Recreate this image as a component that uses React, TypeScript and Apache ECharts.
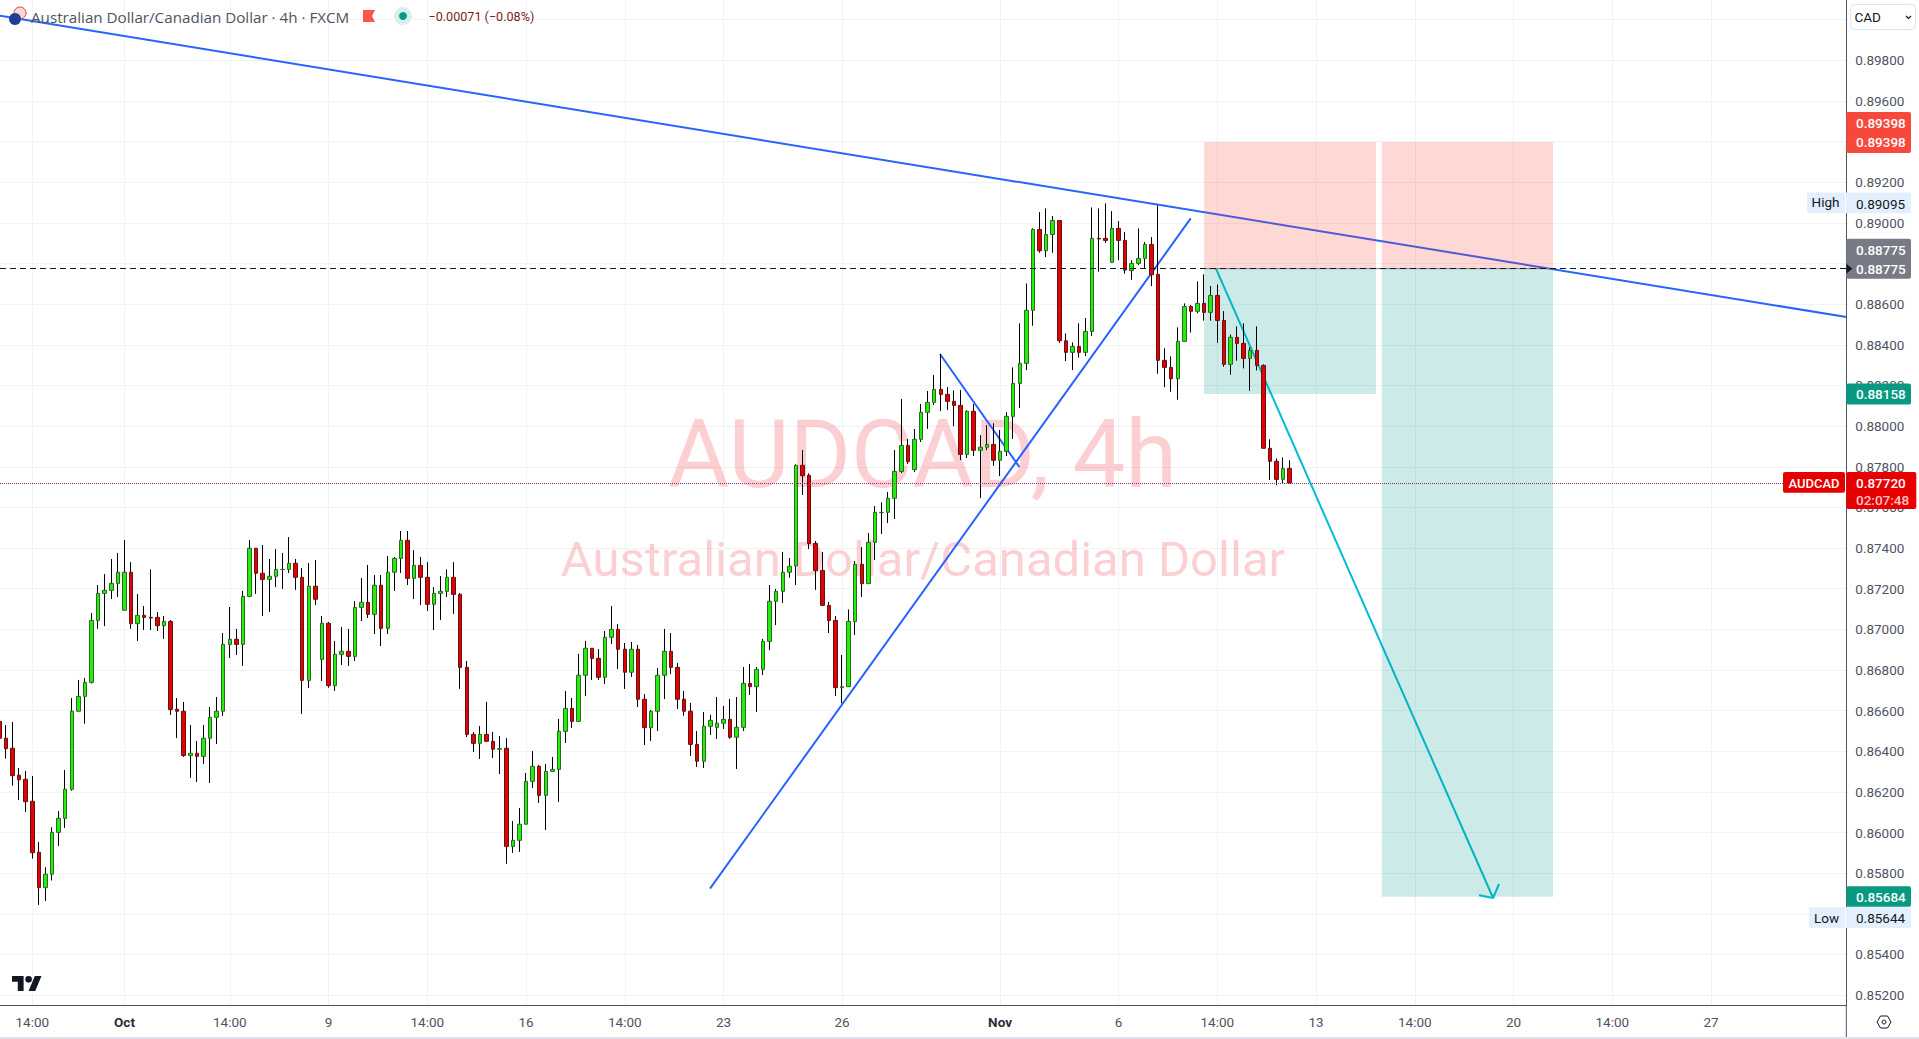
import React, { useEffect, useRef } from "react";
import * as echarts from "echarts";

const opens = [
  0.86547,0.86464,0.86415,0.86282,0.86262,0.86154,0.85903,0.85729,0.85795,0.86001,
  0.86070,0.86213,0.86597,0.86670,0.86739,0.87044,0.87177,0.87192,0.87226,0.87094,
  0.87281,0.87028,0.87069,0.87059,0.87059,0.87018,0.87039,0.86607,0.86597,0.86379,
  0.86390,0.86375,0.86464,0.86567,0.86597,0.86926,0.86951,0.86926,0.87162,0.87399,
  0.87276,0.87246,0.87261,0.87294,0.87295,0.87325,0.87256,0.86749,0.87212,0.86852,
  0.87030,0.86723,0.86877,0.86892,0.86867,0.87108,0.87133,0.87074,0.87217,0.87005,
  0.87281,0.87349,0.87438,0.87251,0.87315,0.87256,0.87123,0.87177,0.87187,0.87256,
  0.87172,0.86813,0.86483,0.86439,0.86483,0.86449,0.86410,0.86415,0.85932,0.85962,
  0.86041,0.86252,0.86326,0.86183,0.86301,0.86311,0.86498,0.86611,0.86547,0.86774,
  0.86907,0.86857,0.86764,0.86961,0.87000,0.86902,0.86789,0.86902,0.86656,0.86516,
  0.86597,0.86774,0.86892,0.86813,0.86656,0.86597,0.86434,0.86351,0.86523,0.86518,
  0.86538,0.86557,0.86469,0.86518,0.86734,0.86718,0.86803,0.86941,0.87138,0.87187,
  0.87281,0.87312,0.87807,0.87758,0.87423,0.87290,0.87118,0.87044,0.86713,0.86718,
  0.87038,0.87320,0.87225,0.87428,0.87574,0.87576,0.87645,0.87777,0.87905,0.87786,
  0.87935,0.88068,0.88117,0.88181,0.88156,0.88122,0.88102,0.87861,0.88073,0.87881,
  0.87896,0.87910,0.87832,0.87876,0.88048,0.88210,0.88309,0.88570,0.88968,0.88863,
  0.88943,0.89012,0.88420,0.88363,0.88392,0.88363,0.88466,0.88924,0.88924,0.88806,
  0.88973,0.88914,0.88766,0.88801,0.88825,0.88894,0.88747,0.88324,0.88289,0.88233,
  0.88417,0.88589,0.88565,0.88604,0.88560,0.88643,0.88520,0.88304,0.88437,0.88407,
  0.88333,0.88373,0.88299,0.87891,0.87827,0.87738,0.87792,
];
const closes = [
  0.86464,0.86413,0.86280,0.86260,0.86152,0.85901,0.85729,0.85795,0.86001,0.86070,
  0.86213,0.86597,0.86670,0.86739,0.87044,0.87177,0.87192,0.87226,0.87281,0.87281,
  0.87028,0.87069,0.87059,0.87056,0.87018,0.87039,0.86605,0.86597,0.86379,0.86390,
  0.86375,0.86464,0.86567,0.86597,0.86926,0.86951,0.86926,0.87162,0.87399,0.87276,
  0.87246,0.87261,0.87295,0.87295,0.87325,0.87256,0.86749,0.87212,0.87148,0.87030,
  0.86723,0.86877,0.86892,0.86867,0.87108,0.87133,0.87074,0.87217,0.87005,0.87281,
  0.87349,0.87438,0.87251,0.87315,0.87256,0.87123,0.87177,0.87187,0.87256,0.87172,
  0.86813,0.86483,0.86439,0.86483,0.86449,0.86410,0.86413,0.85932,0.85962,0.86041,
  0.86252,0.86326,0.86183,0.86301,0.86311,0.86498,0.86611,0.86547,0.86774,0.86907,
  0.86857,0.86764,0.86961,0.87000,0.86902,0.86789,0.86902,0.86656,0.86516,0.86597,
  0.86774,0.86892,0.86813,0.86656,0.86597,0.86434,0.86351,0.86523,0.86552,0.86538,
  0.86557,0.86469,0.86518,0.86734,0.86718,0.86803,0.86941,0.87138,0.87187,0.87281,
  0.87310,0.87807,0.87756,0.87422,0.87289,0.87118,0.87043,0.86713,0.86718,0.87039,
  0.87320,0.87225,0.87428,0.87576,0.87576,0.87645,0.87777,0.87905,0.87825,0.87935,
  0.88068,0.88117,0.88181,0.88156,0.88122,0.88102,0.87861,0.88073,0.87881,0.87896,
  0.87910,0.87832,0.87876,0.88048,0.88210,0.88309,0.88570,0.88968,0.88863,0.88943,
  0.89012,0.88420,0.88363,0.88392,0.88363,0.88466,0.88924,0.88921,0.88914,0.88973,
  0.88914,0.88768,0.88801,0.88825,0.88894,0.88745,0.88324,0.88289,0.88233,0.88417,
  0.88589,0.88565,0.88604,0.88560,0.88643,0.88520,0.88304,0.88437,0.88407,0.88333,
  0.88373,0.88299,0.87891,0.87827,0.87738,0.87792,0.87720,
];
const lows = [
  0.86439,0.86364,0.86231,0.86160,0.86101,0.85872,0.85644,0.85663,0.85764,0.85934,
  0.86023,0.86206,0.86597,0.86536,0.86733,0.87003,0.87016,0.87149,0.87159,0.87094,
  0.87003,0.86943,0.86997,0.86997,0.86992,0.86953,0.86579,0.86465,0.86372,0.86269,
  0.86249,0.86338,0.86244,0.86436,0.86574,0.86859,0.86874,0.86820,0.87159,0.87174,
  0.87066,0.87085,0.87208,0.87199,0.87277,0.87194,0.86584,0.86711,0.87120,0.86746,
  0.86713,0.86697,0.86825,0.86820,0.86844,0.87041,0.87056,0.86977,0.86918,0.86977,
  0.87189,0.87277,0.87218,0.87149,0.87120,0.87090,0.86997,0.87046,0.87159,0.87076,
  0.86707,0.86470,0.86397,0.86362,0.86449,0.86367,0.86288,0.85846,0.85900,0.85905,
  0.86041,0.86219,0.86146,0.86013,0.86301,0.86151,0.86441,0.86515,0.86547,0.86672,
  0.86751,0.86751,0.86731,0.86928,0.86805,0.86707,0.86766,0.86618,0.86431,0.86451,
  0.86500,0.86657,0.86780,0.86608,0.86575,0.86377,0.86323,0.86318,0.86480,0.86461,
  0.86510,0.86461,0.86313,0.86500,0.86677,0.86593,0.86775,0.86898,0.87021,0.87130,
  0.87254,0.87218,0.87661,0.87395,0.87194,0.87118,0.86982,0.86672,0.86636,0.86718,
  0.86972,0.87159,0.87225,0.87341,0.87469,0.87523,0.87543,0.87769,0.87814,0.87774,
  0.87922,0.87986,0.88104,0.88074,0.88079,0.88000,0.87833,0.87843,0.87853,0.87646,
  0.87882,0.87804,0.87754,0.87853,0.87937,0.88089,0.88276,0.88494,0.88853,0.88832,
  0.88853,0.88410,0.88320,0.88276,0.88337,0.88345,0.88443,0.88760,0.88902,0.88806,
  0.88817,0.88750,0.88720,0.88793,0.88778,0.88689,0.88258,0.88191,0.88169,0.88130,
  0.88417,0.88461,0.88555,0.88519,0.88519,0.88410,0.88292,0.88253,0.88322,0.88284,
  0.88174,0.88274,0.87891,0.87735,0.87709,0.87718,0.87720,
];
const highs = [
  0.86570,0.86529,0.86544,0.86318,0.86303,0.86278,0.85954,0.85829,0.86026,0.86106,
  0.86308,0.86662,0.86751,0.86761,0.87080,0.87218,0.87272,0.87346,0.87376,0.87440,
  0.87331,0.87174,0.87115,0.87295,0.87085,0.87066,0.87046,0.86662,0.86643,0.86529,
  0.86451,0.86529,0.86618,0.86667,0.86982,0.87110,0.87002,0.87189,0.87440,0.87399,
  0.87415,0.87346,0.87395,0.87376,0.87454,0.87346,0.87302,0.87326,0.87341,0.87066,
  0.87036,0.86943,0.87012,0.87002,0.87139,0.87253,0.87317,0.87267,0.87267,0.87361,
  0.87356,0.87484,0.87484,0.87390,0.87356,0.87331,0.87208,0.87262,0.87295,0.87331,
  0.87179,0.86844,0.86495,0.86524,0.86643,0.86495,0.86475,0.86465,0.86057,0.86121,
  0.86293,0.86401,0.86333,0.86338,0.86372,0.86559,0.86697,0.86662,0.86879,0.86943,
  0.86907,0.86903,0.86992,0.87115,0.87026,0.86933,0.86938,0.86923,0.86682,0.86603,
  0.86810,0.87002,0.86982,0.86834,0.86697,0.86638,0.86500,0.86593,0.86579,0.86667,
  0.86623,0.86657,0.86667,0.86815,0.86830,0.86815,0.86953,0.87218,0.87199,0.87381,
  0.87351,0.87812,0.87882,0.87768,0.87435,0.87381,0.87135,0.87066,0.86874,0.87098,
  0.87336,0.87405,0.87474,0.87607,0.87625,0.87676,0.87882,0.88133,0.87937,0.87986,
  0.88109,0.88173,0.88251,0.88355,0.88192,0.88176,0.88178,0.88078,0.88109,0.87956,
  0.88005,0.88014,0.87981,0.88069,0.88289,0.88506,0.88702,0.88973,0.89053,0.89071,
  0.89034,0.89012,0.88456,0.88412,0.88506,0.88532,0.89076,0.89071,0.89096,0.89058,
  0.89009,0.88955,0.88817,0.88973,0.88906,0.88930,0.89086,0.88383,0.88343,0.88486,
  0.88604,0.88596,0.88712,0.88747,0.88689,0.88697,0.88566,0.88451,0.88491,0.88506,
  0.88388,0.88491,0.88304,0.87935,0.87841,0.87846,0.87832,
];

const xTickIndex = [5, 19, 35, 50, 65, 80, 95, 110, 128, 152, 170, 185, 200, 215, 230, 245, 260];
const xTickLabels = ["14:00", "Oct", "14:00", "9", "14:00", "16", "14:00", "23", "26", "Nov", "6", "14:00", "13", "14:00", "20", "14:00", "27"];
const xBoldLabels = ["Oct", "Nov"];
const yGridValues = [0.852, 0.854, 0.856, 0.858, 0.86, 0.862, 0.864, 0.866, 0.868, 0.87, 0.872, 0.874, 0.876, 0.878, 0.88, 0.882, 0.884, 0.886, 0.888, 0.89, 0.892, 0.894, 0.896, 0.898, 0.9];
const yLabelValues = [0.852, 0.854, 0.858, 0.86, 0.862, 0.864, 0.866, 0.868, 0.87, 0.872, 0.874, 0.876, 0.878, 0.88, 0.882, 0.884, 0.886, 0.89, 0.892, 0.896, 0.898];

const X_MIN = 0.089;
const X_MAX = 280.55;
const Y_MIN = 0.85148;
const Y_MAX = 0.90097;

const resistanceLine = [[X_MIN, 0.90019], [X_MAX, 0.88537]];
const supportLine = [[107.94, 0.85724], [180.96, 0.89022]];
const flagLine = [[142.88, 0.88355], [154.93, 0.87799]];
const arrowShaft = [[184.8, 0.88775], [226.9, 0.85678]];
const arrowHead = [[224.76, 0.85692], [226.9, 0.85678], [227.8, 0.85747]];
const entryLine = [[183, 0.88775], [236, 0.88775]];

const entryPrice = 0.88775;
const stopPrice = 0.89398;
const targetNear = 0.88158;
const targetFar = 0.85684;
const lastPrice = 0.8772;
const highPrice = 0.89095;
const riskBoxes = [[183, 209.1], [210, 236]];

const UI_FONT = "Roboto, sans-serif";
const LEGEND_FONT = "'Open Sans', sans-serif";
const BLUE = "#2962ff";
const CYAN = "#00bcd4";
const TEAL = "#089981";

const candleRows = opens.map((o, i) => [i, o, closes[i], lows[i], highs[i]]);
const bodyRows = opens.map((o, i) => [i, o, closes[i], Math.min(o, closes[i]), Math.max(o, closes[i])]);

const lineSeries = (name: string, data: number[][], color: string) => ({
  name, type: "line", data, symbol: "none", silent: true, z: 1,
  lineStyle: { color, width: 2 }, animation: false,
});

echarts.graphic.registerShape(
  "tvlogo",
  echarts.graphic.extendPath("M14 22H7V11H0V4h14v18zM28 22h-8l7.5-18h8L28 22zM20 4a4 4 0 1 1 0 8 4 4 0 0 1 0-8z", {})
);

export default function App() {
  const ref = useRef<HTMLDivElement>(null);
  useEffect(() => {
    const chart = echarts.init(ref.current!, undefined, { renderer: "svg" });
    const axisText = { color: "#50535e", fontFamily: UI_FONT, fontSize: 13.5 };
    const pink = "rgba(247,60,45,0.2)";
    const mint = "rgba(0,150,136,0.2)";
    chart.setOption({
      animation: false,
      backgroundColor: "#ffffff",
      grid: { left: 0, top: 0, width: 1846.3, height: 1005.7 },
      xAxis: {
        type: "value", min: X_MIN, max: X_MAX,
        axisLine: { show: true, onZero: false, lineStyle: { color: "#50535e", width: 1 } },
        axisTick: { show: false, customValues: xTickIndex },
        splitLine: { show: true, lineStyle: { color: "#f0f3f5", width: 1 } },
        axisLabel: {
          ...axisText, margin: 9, customValues: xTickIndex, hideOverlap: false,
          formatter: (v: number) => {
            const t = xTickLabels[xTickIndex.indexOf(v)] ?? "";
            return xBoldLabels.includes(t) ? `{b|${t}}` : t;
          },
          rich: { b: { ...axisText, fontWeight: "bold", color: "#2a2e39" } },
        },
      },
      yAxis: {
        type: "value", position: "right", min: Y_MIN, max: Y_MAX,
        axisLine: { show: true, onZero: false, lineStyle: { color: "#50535e", width: 1 } },
        axisTick: { show: false, customValues: yGridValues },
        splitLine: { show: true, lineStyle: { color: "#f0f3f5", width: 1 } },
        axisLabel: { ...axisText, margin: 9, customValues: yLabelValues, formatter: (v: number) => v.toFixed(5) },
      },
      series: [
        lineSeries("resistance", resistanceLine, BLUE),
        lineSeries("support", supportLine, BLUE),
        lineSeries("flag", flagLine, BLUE),
        lineSeries("target path", arrowShaft, CYAN),
        lineSeries("target arrow", arrowHead, CYAN),
        {
          name: "position boxes", type: "line", data: [], symbol: "none", silent: true, z: 2,
          markArea: {
            silent: true, z: 2, precision: 5,
            data: [
              [{ xAxis: riskBoxes[0][0], yAxis: stopPrice, itemStyle: { color: pink } }, { xAxis: riskBoxes[0][1], yAxis: entryPrice }],
              [{ xAxis: riskBoxes[1][0], yAxis: stopPrice, itemStyle: { color: pink } }, { xAxis: riskBoxes[1][1], yAxis: entryPrice }],
              [{ xAxis: riskBoxes[0][0], yAxis: entryPrice, itemStyle: { color: mint } }, { xAxis: riskBoxes[0][1], yAxis: targetNear }],
              [{ xAxis: riskBoxes[1][0], yAxis: entryPrice, itemStyle: { color: mint } }, { xAxis: riskBoxes[1][1], yAxis: targetFar }],
            ],
          },
        },
        {
          name: "wicks", type: "candlestick", data: candleRows, z: 3, silent: true,
          encode: { x: 0, y: [1, 2, 3, 4] }, barWidth: 1,
          itemStyle: { color: "#000000", color0: "#000000", borderColor: "#000000", borderColor0: "#000000", borderColorDoji: "#000000", borderWidth: 1 },
        },
        {
          name: "bodies", type: "candlestick", data: bodyRows, z: 4, silent: true,
          encode: { x: 0, y: [1, 2, 3, 4] }, barWidth: 4,
          itemStyle: { color: "#22ee0f", color0: "#e00303", borderColor: "#2c6a1e", borderColor0: "#6a1010", borderColorDoji: "#2c6a1e", borderWidth: 1 },
        },
        {
          name: "entry edge", type: "line", data: entryLine, symbol: "none", silent: true, z: 5,
          lineStyle: { color: "#787b86", width: 1 },
        },
        {
          name: "levels", type: "line", data: [], symbol: "none", silent: true, z: 6,
          markLine: {
            silent: true, symbol: "none", z: 6, precision: 5, label: { show: false },
            data: [
              { yAxis: entryPrice, lineStyle: { color: "#131722", type: [6, 4], width: 1 } },
              { yAxis: lastPrice, lineStyle: { color: BLUE, type: [1, 3], width: 1, dashOffset: 2 } },
              { yAxis: lastPrice, lineStyle: { color: "#e60000", type: [1, 3], width: 1 } },
            ],
          },
        },
      ],
    });

    const yPx = (v: number) => chart.convertToPixel({ yAxisIndex: 0 }, v) as number;
    const axisX = 1846.3;
    const txt = (text: string, x: number, y: number, fill: string, size = 13.5, weight: any = "normal", align = "left", family = UI_FONT, z = 100) => ({
      type: "text", z, silent: true,
      style: { text, x, y, fill, fontFamily: family, fontSize: size, fontWeight: weight, textAlign: align, textVerticalAlign: "middle", verticalAlign: "middle" },
    });
    const box = (x: number, y: number, width: number, height: number, fill: string, r: any = 2, stroke?: string) => ({
      type: "rect", z: 99, silent: true, shape: { x, y, width, height, r },
      style: { fill, stroke },
    });
    const priceX = 1856;
    const yStop = yPx(stopPrice);
    const yEntry = yPx(entryPrice);
    const yHigh = yPx(highPrice);
    const yLast = yPx(lastPrice);
    const yNear = yPx(targetNear);
    const yFar = yPx(targetFar);
    const yLowBadge = yFar + 21;
    chart.setOption({
      graphic: [
        txt("AUDCAD, 4h", 922.5, 455, "rgba(242,54,69,0.24)", 94, "normal", "center", UI_FONT, 0),
        txt("Australian Dollar/Canadian Dollar", 923, 559, "rgba(242,54,69,0.24)", 49, "normal", "center", UI_FONT, 0),

        { type: "line", z: 98, silent: true, shape: { x1: axisX, y1: 1005, x2: axisX, y2: 1037 }, style: { stroke: "#50535e", lineWidth: 1 } },
        { type: "rect", z: 98, silent: true, shape: { x: 0, y: 1037, width: 1919, height: 2 }, style: { fill: "#e0e3eb" } },

        box(axisX, yStop - 30, 64.7, 41, "#f7483c"),
        txt("0.89398", priceX, yStop - 19, "#ffffff", 13.5, 500),
        txt("0.89398", priceX, yStop, "#ffffff", 13.5, 500),

        box(1807, yHigh - 11, 104, 20.7, "#e3effd"),
        { type: "line", z: 99, silent: true, shape: { x1: 1845.5, y1: yHigh - 11, x2: 1845.5, y2: yHigh + 9.7 }, style: { stroke: "#ffffff", lineWidth: 1 } },
        txt("High", 1811.5, yHigh - 1.5, "#131722"),
        txt("0.89095", priceX, yHigh, "#131722"),

        box(axisX, yEntry - 30, 64.7, 40, "#787b86"),
        txt("0.88775", priceX, yEntry - 19, "#ffffff", 13.5, 500),
        txt("0.88775", priceX, yEntry, "#ffffff", 13.5, 500),
        { type: "polygon", z: 100, silent: true, shape: { points: [[axisX, yEntry - 5], [axisX + 6, yEntry], [axisX, yEntry + 5]] }, style: { fill: "#131722" } },

        box(axisX, yNear - 10.5, 64.7, 21, TEAL),
        txt("0.88158", priceX, yNear, "#ffffff", 13.5, 500),

        box(1783, yLast - 11, 62, 20.7, "#e60000"),
        txt("AUDCAD", 1814, yLast, "#ffffff", 13, 500, "center"),
        box(axisX, yLast - 11, 70, 37, "#e60000"),
        txt("0.87720", priceX, yLast, "#ffffff", 13.5, 500),
        txt("02:07:48", priceX, yLast + 16.5, "#ffc4c4", 13.5, 500),

        box(axisX, yFar - 10.5, 64.7, 20.5, TEAL),
        txt("0.85684", priceX, yFar, "#ffffff", 13.5, 500),

        box(1809, yLowBadge - 10.5, 102, 20.7, "#e3effd"),
        { type: "line", z: 99, silent: true, shape: { x1: 1845.5, y1: yLowBadge - 10.5, x2: 1845.5, y2: yLowBadge + 10.2 }, style: { stroke: "#ffffff", lineWidth: 1 } },
        txt("Low", 1814, yLowBadge, "#131722"),
        txt("0.85644", priceX, yLowBadge, "#131722"),

        box(1850.5, 4.5, 65, 25, "#ffffff", 4, "#e0e3eb"),
        txt("CAD", 1854.5, 17, "#131722", 13.5),
        { type: "polyline", z: 100, silent: true, shape: { points: [[1906, 16], [1908.5, 18.5], [1911, 16]] }, style: { stroke: "#131722", lineWidth: 1.2, fill: "none" } },

        { type: "polygon", z: 100, silent: true, shape: { points: [[1877, 1022], [1880.5, 1016], [1887.5, 1016], [1891, 1022], [1887.5, 1028], [1880.5, 1028]] }, style: { fill: "none", stroke: "#131722", lineWidth: 1 } },
        { type: "circle", z: 100, silent: true, shape: { cx: 1884, cy: 1022, r: 2 }, style: { fill: "none", stroke: "#131722", lineWidth: 1 } },

        { type: "circle", z: 100, silent: true, shape: { cx: 20, cy: 13, r: 6 }, style: { fill: "#f7d8d8", stroke: "#e64040", lineWidth: 1 } },
        { type: "circle", z: 101, silent: true, shape: { cx: 15, cy: 19, r: 6 }, style: { fill: "#1f3f94" } },
        txt("Australian Dollar/Canadian Dollar · 4h · FXCM", 31, 16.5, "#50535e", 15.2, "normal", "left", LEGEND_FONT),
        { type: "polygon", z: 100, silent: true, shape: { points: [[363, 10], [375, 10], [372, 16], [375, 22], [363, 22]] }, style: { fill: "#ff5252" } },
        { type: "circle", z: 100, silent: true, shape: { cx: 403, cy: 16, r: 9 }, style: { fill: "#d9efec" } },
        { type: "circle", z: 101, silent: true, shape: { cx: 403, cy: 16, r: 4 }, style: { fill: TEAL } },
        txt("−0.00071 (−0.08%)", 428.5, 16.5, "#7f1d1d", 12.6),

        { type: "tvlogo", z: 100, silent: true, x: 12, y: 972.7, scaleX: 0.83, scaleY: 0.83, style: { fill: "#131722" } },
      ],
    });
    return () => chart.dispose();
  }, []);
  return <div ref={ref} style={{ position: "fixed", left: 0, top: 0, width: 1919, height: 1039, background: "#fff" }} />;
}
